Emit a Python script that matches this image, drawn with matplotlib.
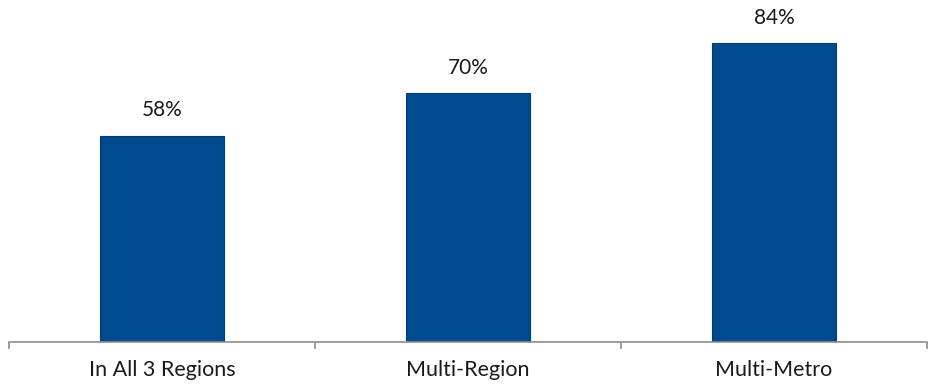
import matplotlib.pyplot as plt

categories = ["In All 3 Regions", "Multi-Region", "Multi-Metro"]
shares = [58, 70, 84]

plt.rcParams['font.family'] = ['Lato', 'DejaVu Sans']

fig = plt.figure(figsize=(9.32, 3.91), dpi=100)
ax = fig.add_axes([9 / 932, 49 / 391, 918 / 932, 342 / 391])

x = list(range(len(categories)))
bars = ax.bar(x, shares, width=0.405, color="#004a8f", edgecolor="#003c75", linewidth=0.8)

for rect, v in zip(bars, shares):
    ax.annotate(f"{v}%", (rect.get_x() + rect.get_width() / 2, rect.get_height()),
                xytext=(0, 11), textcoords="offset points",
                ha="center", va="bottom", fontsize=15, color="#1a1a1a")

ax.set_xlim(-0.5, len(categories) - 0.5)
ax.set_ylim(0, 342 / 3.56)

for side in ("top", "right", "left"):
    ax.spines[side].set_visible(False)
ax.spines["bottom"].set_color("#8c8c8c")
ax.spines["bottom"].set_linewidth(1.2)

ax.set_yticks([])
ax.set_xticks(x)
ax.set_xticklabels(categories, fontsize=15.5, color="#1a1a1a")
ax.tick_params(axis="x", which="major", length=0, pad=13)
ax.set_xticks([i - 0.5 for i in range(len(categories) + 1)], minor=True)
ax.tick_params(axis="x", which="minor", length=5, width=1.2, color="#8c8c8c", direction="out")

fig.savefig("out.png", dpi=100)
